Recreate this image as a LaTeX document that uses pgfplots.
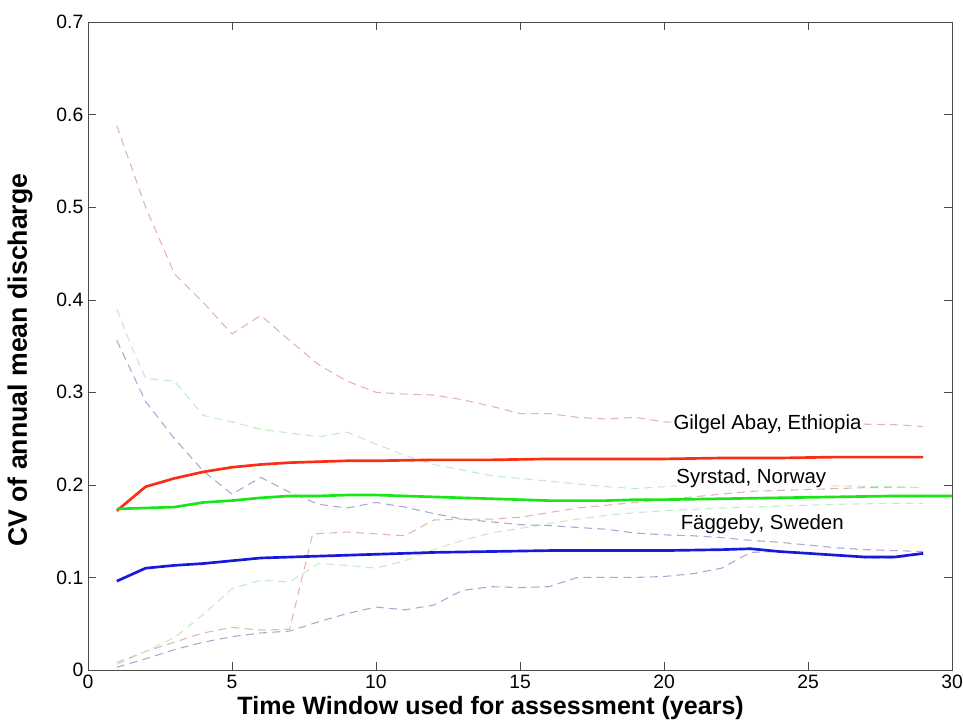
\documentclass[border=0pt]{standalone}
\usepackage{pgfplots}
\pgfplotsset{compat=1.18}
\usepackage{fontspec}
\setmainfont{Liberation Sans}

\definecolor{solidred}{rgb}{0.98,0.18,0.08}
\definecolor{solidgreen}{rgb}{0.1,0.9,0.1}
\definecolor{solidblue}{rgb}{0.1,0.1,0.85}
\definecolor{palered}{rgb}{0.9,0.7,0.7}
\definecolor{palegreen}{rgb}{0.76,0.93,0.76}
\definecolor{paleblue}{rgb}{0.66,0.66,0.84}

\begin{document}
\begin{tikzpicture}
\useasboundingbox (-66pt,-37.5pt) rectangle (656.25pt,502.5pt);
\begin{axis}[
    scale only axis,
    width=648pt, height=486pt,
    xmin=0, xmax=30, ymin=0, ymax=0.7,
    xtick={0,5,10,15,20,25,30},
    ytick={0,0.1,0.2,0.3,0.4,0.5,0.6,0.7},
    tick align=inside,
    major tick length=6pt,
    axis line style={black!70},
    tick style={black!70},
    /pgf/number format/assume math mode=true,
    tick label style={font=\fontsize{14.5}{16}\selectfont},
    xlabel={Time Window used for assessment (years)},
    ylabel={CV of annual mean discharge},
    xlabel style={font=\fontsize{18.8}{20}\selectfont\bfseries,
        at={(axis description cs:0.466,-0.0586)}, anchor=center},
    ylabel style={font=\fontsize{20}{22}\selectfont\bfseries,
        at={(axis description cs:-0.0787,0.478)}, anchor=center},
    every axis plot/.append style={line join=round},
    dashed line/.style={line width=0.8pt, dash pattern=on 6pt off 4pt},
]
% pale dashed bounds
\addplot[palered, dashed line] coordinates {
(1,0.588)(2,0.500)(3,0.428)(4,0.397)(5,0.363)(6,0.383)(7,0.356)(8,0.330)(9,0.312)(10,0.300)
(11,0.298)(12,0.297)(13,0.292)(14,0.285)(15,0.277)(16,0.277)(17,0.273)(18,0.271)(19,0.273)
(20,0.268)(21,0.267)(22,0.266)(24,0.266)(26,0.266)(28,0.265)(29,0.263)};
\addplot[palered, dashed line] coordinates {
(1,0.008)(2,0.020)(3,0.030)(4,0.040)(5,0.046)(6,0.043)(7,0.044)(7.8,0.147)(9,0.149)(10,0.147)
(11,0.145)(12,0.162)(13,0.163)(14,0.163)(15,0.165)(16,0.170)(17,0.175)(18,0.178)(19,0.181)
(20,0.184)(21,0.187)(22,0.190)(23,0.193)(25,0.195)(27,0.197)(29,0.197)};
\addplot[palegreen, dashed line] coordinates {
(1,0.390)(1.5,0.350)(2,0.315)(3,0.312)(4,0.275)(5,0.268)(6,0.260)(7,0.256)(8,0.252)(9,0.257)
(10,0.244)(11,0.232)(12,0.222)(13,0.216)(14,0.210)(15,0.207)(16,0.204)(17,0.201)(18,0.198)
(19,0.196)(20,0.198)(21,0.200)(22,0.199)(24,0.198)(26,0.199)(28,0.198)(29,0.197)};
\addplot[palegreen, dashed line] coordinates {
(1,0.006)(2,0.020)(3,0.035)(4,0.060)(5,0.088)(6,0.097)(7,0.095)(8,0.115)(9,0.113)(10,0.110)
(11,0.118)(12,0.130)(13,0.140)(14,0.148)(15,0.153)(16,0.158)(17,0.163)(18,0.167)(19,0.170)
(20,0.172)(22,0.175)(24,0.177)(26,0.179)(28,0.180)(29,0.180)};
\addplot[paleblue, dashed line] coordinates {
(1,0.356)(2,0.290)(3,0.250)(4,0.215)(5,0.190)(6,0.208)(7,0.192)(8,0.179)(9,0.175)(10,0.181)
(11,0.176)(12,0.169)(13,0.163)(14,0.160)(15,0.157)(16,0.156)(17,0.154)(18,0.152)(19,0.148)
(20,0.146)(21,0.145)(22,0.143)(23,0.140)(24,0.138)(25,0.135)(26,0.132)(27,0.130)(28,0.129)(29,0.128)};
\addplot[paleblue, dashed line] coordinates {
(1,0.003)(2,0.012)(3,0.022)(4,0.030)(5,0.036)(6,0.040)(7,0.042)(8,0.052)(9,0.061)(10,0.068)
(11,0.065)(12,0.070)(13,0.086)(14,0.090)(15,0.089)(16,0.090)(17,0.100)(18,0.100)(19,0.100)
(20,0.101)(21,0.104)(22,0.110)(23,0.127)(24,0.128)(25,0.127)(26,0.124)(27,0.121)(28,0.121)(29,0.125)};
% mean CV curves
\addplot[solidred, line width=2pt] coordinates {
(1,0.172)(2,0.198)(3,0.207)(4,0.214)(5,0.219)(6,0.222)(7,0.224)(8,0.225)(9,0.226)(10,0.226)
(12,0.227)(14,0.227)(16,0.228)(18,0.228)(20,0.228)(22,0.229)(24,0.229)(26,0.230)(28,0.230)(29,0.230)};
\addplot[solidgreen, line width=2pt] coordinates {
(1,0.174)(2,0.175)(3,0.176)(4,0.181)(5,0.183)(6,0.186)(7,0.188)(8,0.188)(9,0.189)(10,0.189)
(11,0.188)(12,0.187)(13,0.186)(14,0.185)(15,0.184)(16,0.183)(17,0.183)(18,0.183)(19,0.184)
(20,0.184)(22,0.185)(24,0.186)(26,0.187)(28,0.188)(30,0.188)};
\addplot[solidblue, line width=2pt] coordinates {
(1,0.096)(2,0.110)(3,0.113)(4,0.115)(5,0.118)(6,0.121)(7,0.122)(8,0.123)(9,0.124)(10,0.125)
(12,0.127)(14,0.128)(16,0.129)(18,0.129)(20,0.129)(22,0.130)(23,0.131)(24,0.128)(25,0.126)
(26,0.124)(27,0.122)(28,0.122)(29,0.126)};
\node[anchor=west, fill=white, inner sep=0.5pt, font=\fontsize{15.3}{17}\selectfont] at (axis cs:20.3,0.265) {Gilgel Abay, Ethiopia};
\node[anchor=west, fill=white, inner sep=0.5pt, font=\fontsize{15.3}{17}\selectfont] at (axis cs:20.4,0.2076) {Syrstad, Norway};
\node[anchor=west, fill=white, inner sep=0.5pt, font=\fontsize{15.3}{17}\selectfont] at (axis cs:20.55,0.157) {Fäggeby, Sweden};
\end{axis}
\end{tikzpicture}
\end{document}
